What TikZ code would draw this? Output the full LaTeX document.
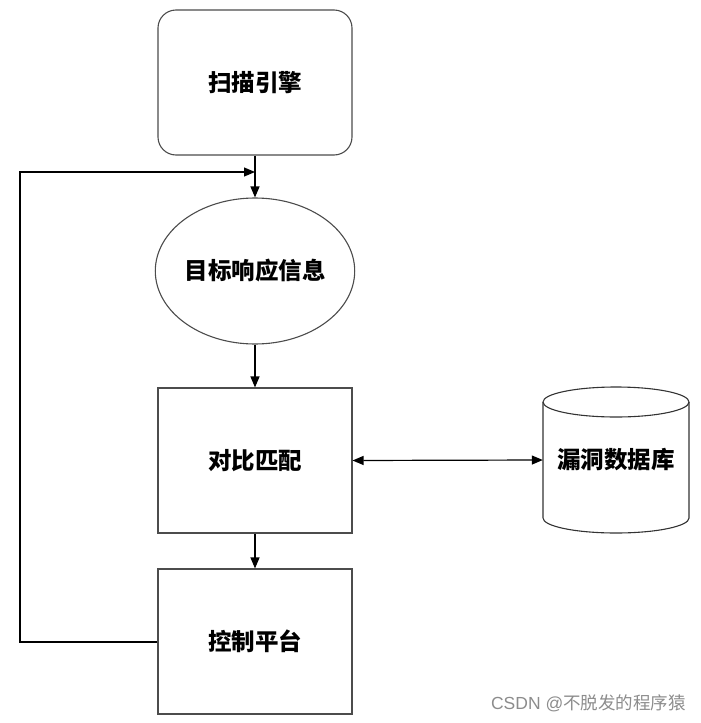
\documentclass[tikz,border=0pt]{standalone}
\usepackage{fontspec}
\newfontfamily\cjk{Noto Sans CJK SC}
\newfontfamily\lat{Liberation Sans}
\usetikzlibrary{arrows.meta,shapes.geometric}
\begin{document}
\begin{tikzpicture}[x=1pt,y=-1pt,
  lbl/.style={font=\cjk\bfseries\fontsize{23.5}{28}\selectfont},
  box/.style={draw=black!70,line width=1.1pt,minimum width=194pt,minimum height=145pt,inner sep=0pt,lbl},
  arr/.style={line width=1.2pt,-{Triangle[length=11pt,width=9pt]}},
  darr/.style={line width=1.2pt,{Triangle[length=11pt,width=9pt]}-{Triangle[length=11pt,width=9pt]}}]
\useasboundingbox (0,0) rectangle (701,723);
\node[box,rounded corners=18pt] (scan) at (255,82.5) {扫描引擎};
\node[draw=black!70,line width=1.1pt,ellipse,minimum width=194pt,minimum height=146pt,inner sep=0pt,lbl] (resp) at (255,271) {目标响应信息};
\node[box] (cmp) at (255,460.5) {对比匹配};
\node[box] (ctrl) at (255,641.5) {控制平台};
% cylinder
\node[minimum width=146pt,minimum height=146pt,inner sep=0pt,lbl] (db) at (616,460) {漏洞数据库};
\draw[black!80,line width=1.1pt] (543,402) -- (543,518) arc[start angle=180,end angle=0,x radius=73,y radius=15] -- (689,402);
\draw[black!80,line width=1.1pt] (616,402) ellipse[x radius=73,y radius=15];
\coordinate (j) at (255,172);
\coordinate (lt) at (20,172);
\coordinate (lb) at (20,642);
\draw[arr] (scan.south) -- (resp.north);
\draw[arr] (resp.south) -- (cmp.north);
\draw[arr] (cmp.south) -- (ctrl.north);
\draw[darr] (cmp.east) -- (db.west);
\draw[arr] (ctrl.west |- lb) -- (lb) -- (lt) -- (j);
\node[font=\fontsize{17.5}{20}\selectfont,text=black!45,anchor=east,inner sep=0pt] (wm) at (686,703) {\lat CSDN @\cjk 不脱发的程序猿};
\end{tikzpicture}
\end{document}
